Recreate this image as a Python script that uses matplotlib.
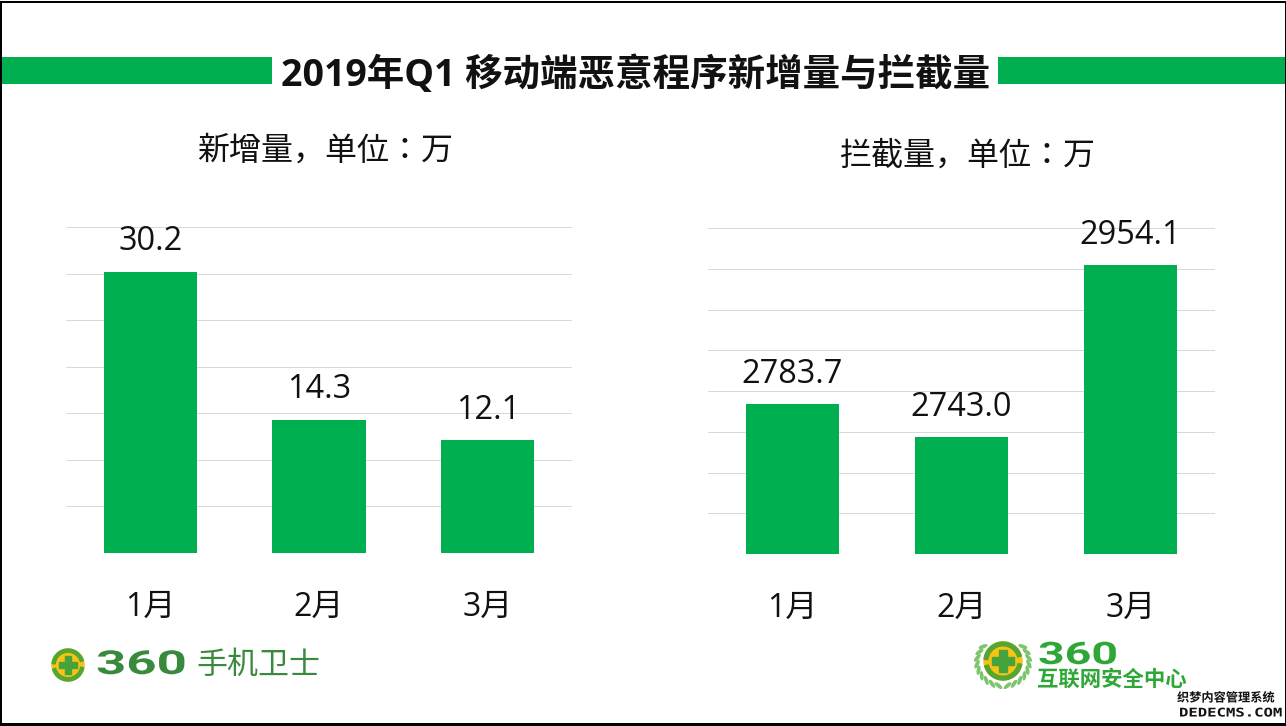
import numpy as np
import matplotlib
matplotlib.use("Agg")
import matplotlib.pyplot as plt
from matplotlib.patches import Circle, Ellipse, Rectangle, Wedge
from matplotlib.patheffects import AbstractPathEffect, withStroke
from matplotlib.transforms import Affine2D

W, H = 1286, 726
FONT = ["Open Sans", "Noto Sans CJK SC", "DejaVu Sans"]
GREEN = "#00B050"

months = ["1月", "2月", "3月"]
new_values = [30.2, 14.3, 12.1]
block_values = [2783.7, 2743.0, 2954.1]
new_ticks = [0, 5, 10, 15, 20, 25, 30, 35]
block_ticks = [2600, 2650, 2700, 2750, 2800, 2850, 2900, 2950, 3000]

title = "2019年Q1 移动端恶意程序新增量与拦截量"
new_title = "新增量，单位：万"
block_title = "拦截量，单位：万"

plt.rcParams["font.family"] = FONT


class StretchX(AbstractPathEffect):
    # logo wordmark is much wider than any installed font
    def __init__(self, sx):
        super().__init__()
        self.sx = sx

    def draw_path(self, renderer, gc, tpath, affine, rgbFace=None):
        renderer.draw_path(gc, tpath, Affine2D().scale(self.sx, 1) + affine, rgbFace)


def px(size):
    return size * 72 / 100


def add_panel(fig, box, values, ticks, fmt="{:.1f}"):
    left, top, right, bottom = box
    ax = fig.add_axes([left / W, 1 - bottom / H, (right - left) / W, (bottom - top) / H])
    ax.bar(range(len(values)), values, width=0.555, color=GREEN, zorder=3)
    ax.set_xlim(-0.5, len(values) - 0.5)
    ax.set_ylim(ticks[0], ticks[-1])
    ax.set_yticks(ticks)
    ax.set_xticks(range(len(values)))
    ax.set_xticklabels(months, fontsize=px(32), color="#111111")
    ax.tick_params(axis="x", length=0, pad=px(38))
    ax.tick_params(axis="y", length=0, labelleft=False)
    ax.grid(axis="y", color="#D9D9D9", linewidth=px(1), zorder=0)
    for spine in ax.spines.values():
        spine.set_visible(False)
    ax.patch.set_alpha(0)
    for i, v in enumerate(values):
        ax.annotate(fmt.format(v), (i, v), xytext=(0, px(30)), textcoords="offset points",
                    ha="center", va="center", fontsize=px(32.5), color="#111111")
    return ax


def draw_ball(bg, x, y, r):
    # y axis is flipped, so 270 deg is the top of the ball on screen
    bg.add_patch(Circle((x, y), r, color="#F7C315", zorder=5))
    bg.add_patch(Wedge((x, y), r, 185, 345, width=r * 0.2, color="#55A632", zorder=6))
    bg.add_patch(Wedge((x, y), r, 10, 165, width=r * 0.2, color="#55A632", zorder=6))
    arm, thick = r * 0.58, r * 0.38
    bg.add_patch(Rectangle((x - arm, y - thick / 2), arm * 2, thick, color="#46A23A", zorder=7))
    bg.add_patch(Rectangle((x - thick / 2, y - arm), thick, arm * 2, color="#46A23A", zorder=7))


fig = plt.figure(figsize=(W / 100, H / 100), dpi=100)
fig.patch.set_facecolor("white")

bg = fig.add_axes([0, 0, 1, 1])
bg.set_xlim(0, W)
bg.set_ylim(H, 0)
bg.axis("off")

# header bands
bg.add_patch(Rectangle((2, 57), 270, 27, color=GREEN, lw=0))
bg.add_patch(Rectangle((998, 57), 287, 27, color=GREEN, lw=0))
bg.text(636, 76, title, ha="center", va="center", fontsize=px(37.5), fontweight="bold", color="#111111")
sub_font = ["Open Sans", "Noto Sans CJK KR", "DejaVu Sans"]
bg.text(325, 151, new_title, ha="center", va="center", fontsize=px(32), color="#111111", family=sub_font)
bg.text(968, 156, block_title, ha="center", va="center", fontsize=px(32), color="#111111", family=sub_font)

add_panel(fig, (66, 227, 572, 553), new_values, new_ticks)
add_panel(fig, (708, 228, 1215, 554), block_values, block_ticks)

# 360 mobile logo
draw_ball(bg, 68, 665, 16)
bg.text(96, 665, "360", ha="left", va="center", fontsize=px(33), fontweight="bold", color="#3A8A3E",
        path_effects=[StretchX(1.6)], family="Roboto")
bg.text(196, 666, "手机卫士", ha="left", va="center", fontsize=px(31), color="#3A8A3E")

# internet security centre logo, wreath leaves around the ball
draw_ball(bg, 1003, 661, 19)
for side in (-1, 1):
    for deg in range(-40, 95, 15):
        a = np.radians(deg)
        lx = 1003 + side * 26 * np.cos(a)
        ly = 662 + 24 * np.sin(a)
        bg.add_patch(Ellipse((lx, ly), 8, 2.4, angle=side * (deg + 60), color="#7CC46E", zorder=4))
bg.text(1038, 655, "360", ha="left", va="center", fontsize=px(31), fontweight="bold", color="#2FA737",
        path_effects=[StretchX(1.5)], family="Roboto")
bg.text(1037, 680, "互联网安全中心", ha="left", va="center", fontsize=px(21.4), fontweight="bold", color="#2FA737")

# watermark
halo = [withStroke(linewidth=2, foreground="white")]
bg.text(1226, 698, "织梦内容管理系统", ha="center", va="center", fontsize=px(12.2), fontweight="bold",
        color="#111111", path_effects=halo, zorder=9)
bg.text(1179, 713, "DEDECMS.COM", ha="left", va="center", fontsize=px(12), fontweight="bold",
        color="#111111", path_effects=[StretchX(1.3)], zorder=9, family="DejaVu Sans Mono")

# frame, each side has its own thickness
bg.add_patch(Rectangle((0, 1), W, 2, color="black", lw=0, zorder=10))
bg.add_patch(Rectangle((0, 1), 2, H, color="black", lw=0, zorder=10))
bg.add_patch(Rectangle((0, 723), W, 3, color="black", lw=0, zorder=10))
bg.add_patch(Rectangle((1284.5, 1), 1.5, H, color="black", lw=0, zorder=10))

fig.savefig("out.png", dpi=100)
